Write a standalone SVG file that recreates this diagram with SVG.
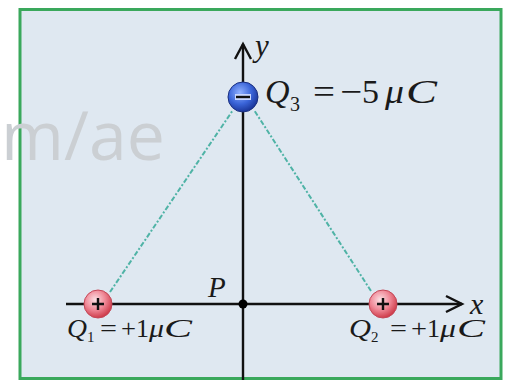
<svg xmlns="http://www.w3.org/2000/svg" width="508" height="383" viewBox="0 0 508 383">
<style>
.lbl{font-family:"Liberation Serif","DejaVu Serif",serif;fill:#1a1a1a}
.it{font-style:italic}
.axis{stroke:#111;stroke-width:2.4;fill:none}
.dash{stroke:#4fb3a6;stroke-width:2;stroke-dasharray:5 2 2 2;fill:none}
.sign{stroke:#111;stroke-width:2.4;fill:none}
</style>
<defs>
<radialGradient id="gRed" cx="0.4" cy="0.35" r="0.7">
<stop offset="0" stop-color="#fbe0e4"/>
<stop offset="0.5" stop-color="#f08a98"/>
<stop offset="1" stop-color="#c9303f"/>
</radialGradient>
<radialGradient id="gBlue" cx="0.4" cy="0.35" r="0.7">
<stop offset="0" stop-color="#8fb0ff"/>
<stop offset="0.55" stop-color="#3a64d8"/>
<stop offset="1" stop-color="#162f90"/>
</radialGradient>
</defs>
<rect x="0" y="0" width="508" height="383" fill="#ffffff"/>
<rect id="frame" x="20" y="9.5" width="481" height="369" fill="#dfe8f1" stroke="#3aa85c" stroke-width="3"/>
<text x="1" y="160" font-family="Open Sans, DejaVu Sans, sans-serif" font-size="68" fill="#cbcfd3">m/ae</text>
<g id="connectors">
<line class="axis" x1="66" y1="304" x2="462" y2="304"/>
<polyline class="axis" points="446,296 462,304 446,312"/>
<line class="axis" x1="243" y1="380" x2="243" y2="44"/>
<polyline class="axis" points="235,59 243,44 251,59"/>
<line class="dash" x1="110" y1="292" x2="233" y2="110"/>
<line class="dash" x1="371" y1="291" x2="254" y2="110"/>
</g>
<g id="P">
<circle cx="243" cy="304" r="4.5" fill="#000"/>
<text class="lbl it" x="208" y="297" font-size="29">P</text>
</g>
<g id="Q1">
<circle cx="98" cy="304" r="14" fill="url(#gRed)" stroke="#c44858" stroke-width="1"/>
<path class="sign" d="M92,304 H104 M98,298 V310"/>
<text class="lbl" y="337" font-size="26"><tspan class="it" x="67" textLength="20" lengthAdjust="spacingAndGlyphs">Q</tspan><tspan x="87" y="342" font-size="15">1</tspan><tspan x="100" y="337" textLength="17" lengthAdjust="spacingAndGlyphs">=</tspan><tspan x="121" textLength="15" lengthAdjust="spacingAndGlyphs">+</tspan><tspan x="136">1</tspan><tspan class="it" x="149" textLength="15" lengthAdjust="spacingAndGlyphs">μ</tspan><tspan class="it" x="164" textLength="28" lengthAdjust="spacingAndGlyphs">C</tspan></text>
</g>
<g id="Q2">
<circle cx="383" cy="304" r="14" fill="url(#gRed)" stroke="#c44858" stroke-width="1"/>
<path class="sign" d="M377,304 H389 M383,298 V310"/>
<text class="lbl" y="337" font-size="26"><tspan class="it" x="349" textLength="22" lengthAdjust="spacingAndGlyphs">Q</tspan><tspan x="371" y="342" font-size="15">2</tspan><tspan x="390" y="337" textLength="17" lengthAdjust="spacingAndGlyphs">=</tspan><tspan x="411" textLength="16" lengthAdjust="spacingAndGlyphs">+</tspan><tspan x="427">1</tspan><tspan class="it" x="440" textLength="16" lengthAdjust="spacingAndGlyphs">μ</tspan><tspan class="it" x="457" textLength="28" lengthAdjust="spacingAndGlyphs">C</tspan></text>
</g>
<g id="Q3">
<circle cx="243" cy="97" r="15" fill="url(#gBlue)" stroke="#1a2f80" stroke-width="1"/>
<rect x="235" y="94" width="16" height="6" fill="#c8d6ff"/>
<path class="sign" d="M236,97 H250"/>
<text class="lbl" y="103" font-size="34"><tspan class="it" x="265">Q</tspan><tspan x="290" y="111" font-size="20">3</tspan><tspan x="313" y="103" textLength="22" lengthAdjust="spacingAndGlyphs">=</tspan><tspan x="340" textLength="22" lengthAdjust="spacingAndGlyphs">−</tspan><tspan x="362" textLength="17" lengthAdjust="spacingAndGlyphs">5</tspan><tspan class="it" x="385" textLength="19" lengthAdjust="spacingAndGlyphs">μ</tspan><tspan class="it" x="406" textLength="31" lengthAdjust="spacingAndGlyphs">C</tspan></text>
</g>
<text class="lbl it" x="255" y="56" font-size="31">y</text>
<text class="lbl it" x="470" y="314" font-size="30">x</text>
</svg>
